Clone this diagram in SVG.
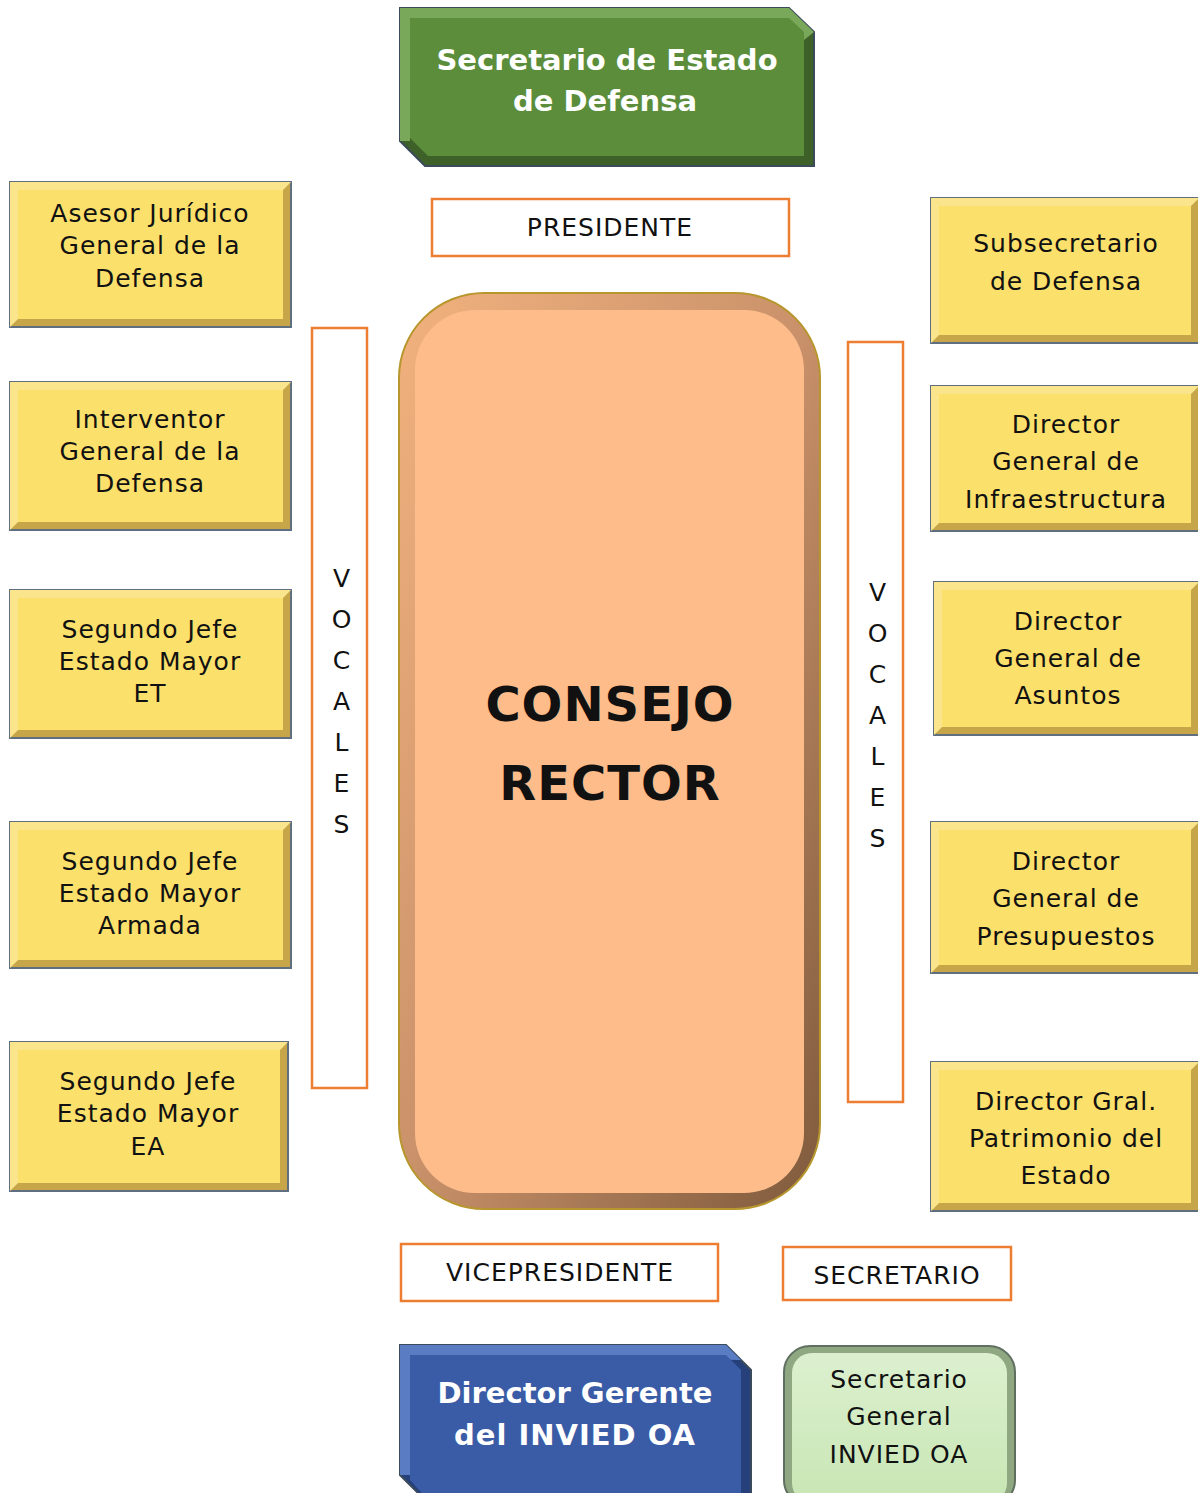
<svg xmlns="http://www.w3.org/2000/svg" width="1198" height="1493" viewBox="0 0 1198 1493">
<defs>
<style>
.t{font-family:"DejaVu Sans","Verdana",sans-serif;font-size:25px;letter-spacing:1px;fill:#111;text-anchor:middle}
.tw{font-family:"DejaVu Sans","Verdana",sans-serif;font-size:29px;font-weight:bold;fill:#fff;text-anchor:middle}
.big{font-family:"DejaVu Sans","Verdana",sans-serif;font-size:48px;letter-spacing:1px;font-weight:bold;fill:#111;text-anchor:middle}
.lbl{fill:#fff;stroke:#ed7d31;stroke-width:2.5}
.ybase{fill:#c6a648;stroke:#5f6f80;stroke-width:2}
.ylight{fill:#fbe58c}
.yface{fill:#fbe06c}
</style>
<linearGradient id="cbev" x1="0" y1="0" x2="1" y2="1">
<stop offset="0" stop-color="#f2b27e"/>
<stop offset="0.5" stop-color="#c9916a"/>
<stop offset="1" stop-color="#7e5a3c"/>
</linearGradient>
<linearGradient id="sgl" x1="0" y1="0" x2="0" y2="1">
<stop offset="0" stop-color="#dcf0cf"/>
<stop offset="1" stop-color="#c8e6b4"/>
</linearGradient>
</defs>

<g id="sec-estado">
<polygon points="400,8 789,8 814,32 814,166 425,166 400,141" fill="#3d6128" stroke="#3c4b5c" stroke-width="2"/>
<polygon points="400,8 789,8 814,32 804,40 410,18 410,141 400,141" fill="#7aa85a"/>
<polygon points="410,18 789,18 804,32 804,156 428,156 410,138" fill="#5b8d3b"/>
<text class="tw" x="607" y="70">Secretario de Estado</text>
<text class="tw" x="605" y="111">de Defensa</text>
</g>

<g id="presidente">
<rect class="lbl" x="432" y="199" width="357" height="57"/>
<text class="t" x="610" y="236">PRESIDENTE</text>
</g>

<g id="consejo">
<rect x="399" y="293" width="421" height="916" rx="85" fill="url(#cbev)" stroke="#b8962e" stroke-width="2"/>
<rect x="415" y="310" width="389" height="883" rx="60" fill="#fdbc8a"/>
<text class="big" x="610" y="721">CONSEJO</text>
<text class="big" x="610" y="800">RECTOR</text>
</g>

<g id="vocales-izq">
<rect class="lbl" x="312" y="328" width="55" height="760"/>
<text class="t" x="342" y="587">V</text>
<text class="t" x="342" y="628">O</text>
<text class="t" x="342" y="669">C</text>
<text class="t" x="342" y="710">A</text>
<text class="t" x="342" y="751">L</text>
<text class="t" x="342" y="792">E</text>
<text class="t" x="342" y="833">S</text>
</g>

<g id="vocales-der">
<rect class="lbl" x="848" y="342" width="55" height="760"/>
<text class="t" x="878" y="601">V</text>
<text class="t" x="878" y="642">O</text>
<text class="t" x="878" y="683">C</text>
<text class="t" x="878" y="724">A</text>
<text class="t" x="878" y="765">L</text>
<text class="t" x="878" y="806">E</text>
<text class="t" x="878" y="847">S</text>
</g>

<g id="asesor">
<rect class="ybase" x="10" y="182" width="281" height="145"/>
<polygon class="ylight" points="10,182 291,182 283,190 18,190 18,319 10,327"/>
<rect class="yface" x="18" y="190" width="265" height="129"/>
<text class="t" x="150" y="222">Asesor Jurídico</text>
<text class="t" x="150" y="254">General de la</text>
<text class="t" x="150" y="287">Defensa</text>
</g>

<g id="interventor">
<rect class="ybase" x="10" y="382" width="281" height="148"/>
<polygon class="ylight" points="10,382 291,382 283,390 18,390 18,522 10,530"/>
<rect class="yface" x="18" y="390" width="265" height="132"/>
<text class="t" x="150" y="428">Interventor</text>
<text class="t" x="150" y="460">General de la</text>
<text class="t" x="150" y="492">Defensa</text>
</g>

<g id="sje-et">
<rect class="ybase" x="10" y="590" width="281" height="148"/>
<polygon class="ylight" points="10,590 291,590 283,598 18,598 18,730 10,738"/>
<rect class="yface" x="18" y="598" width="265" height="132"/>
<text class="t" x="150" y="638">Segundo Jefe</text>
<text class="t" x="150" y="670">Estado Mayor</text>
<text class="t" x="150" y="702">ET</text>
</g>

<g id="sje-armada">
<rect class="ybase" x="10" y="822" width="281" height="146"/>
<polygon class="ylight" points="10,822 291,822 283,830 18,830 18,960 10,968"/>
<rect class="yface" x="18" y="830" width="265" height="130"/>
<text class="t" x="150" y="870">Segundo Jefe</text>
<text class="t" x="150" y="902">Estado Mayor</text>
<text class="t" x="150" y="934">Armada</text>
</g>

<g id="sje-ea">
<rect class="ybase" x="10" y="1042" width="278" height="149"/>
<polygon class="ylight" points="10,1042 288,1042 280,1050 18,1050 18,1183 10,1191"/>
<rect class="yface" x="18" y="1050" width="262" height="133"/>
<text class="t" x="148" y="1090">Segundo Jefe</text>
<text class="t" x="148" y="1122">Estado Mayor</text>
<text class="t" x="148" y="1155">EA</text>
</g>

<g id="subsecretario">
<rect class="ybase" x="931" y="198" width="268" height="145"/>
<polygon class="ylight" points="931,198 1199,198 1191,206 939,206 939,335 931,343"/>
<rect class="yface" x="939" y="206" width="252" height="129"/>
<text class="t" x="1066" y="252">Subsecretario</text>
<text class="t" x="1066" y="290">de Defensa</text>
</g>

<g id="dg-infra">
<rect class="ybase" x="931" y="386" width="268" height="145"/>
<polygon class="ylight" points="931,386 1199,386 1191,394 939,394 939,523 931,531"/>
<rect class="yface" x="939" y="394" width="252" height="129"/>
<text class="t" x="1066" y="433">Director</text>
<text class="t" x="1066" y="470">General de</text>
<text class="t" x="1066" y="508">Infraestructura</text>
</g>

<g id="dg-asuntos">
<rect class="ybase" x="934" y="582" width="265" height="153"/>
<polygon class="ylight" points="934,582 1199,582 1191,590 942,590 942,727 934,735"/>
<rect class="yface" x="942" y="590" width="249" height="137"/>
<text class="t" x="1068" y="630">Director</text>
<text class="t" x="1068" y="667">General de</text>
<text class="t" x="1068" y="704">Asuntos</text>
</g>

<g id="dg-presupuestos">
<rect class="ybase" x="931" y="822" width="268" height="151"/>
<polygon class="ylight" points="931,822 1199,822 1191,830 939,830 939,965 931,973"/>
<rect class="yface" x="939" y="830" width="252" height="135"/>
<text class="t" x="1066" y="870">Director</text>
<text class="t" x="1066" y="907">General de</text>
<text class="t" x="1066" y="945">Presupuestos</text>
</g>

<g id="dg-patrimonio">
<rect class="ybase" x="931" y="1062" width="268" height="149"/>
<polygon class="ylight" points="931,1062 1199,1062 1191,1070 939,1070 939,1203 931,1211"/>
<rect class="yface" x="939" y="1070" width="252" height="133"/>
<text class="t" x="1066" y="1110">Director Gral.</text>
<text class="t" x="1066" y="1147">Patrimonio del</text>
<text class="t" x="1066" y="1184">Estado</text>
</g>

<g id="vicepresidente">
<rect class="lbl" x="401" y="1244" width="317" height="57"/>
<text class="t" x="560" y="1281">VICEPRESIDENTE</text>
</g>

<g id="secretario">
<rect class="lbl" x="783" y="1247" width="228" height="53"/>
<text class="t" x="897" y="1284">SECRETARIO</text>
</g>

<g id="director-gerente">
<polygon points="400,1345 726,1345 751,1370 751,1500 425,1500 400,1475" fill="#25407a" stroke="#3c4b5c" stroke-width="2"/>
<polygon points="400,1345 726,1345 741,1360 410,1355 410,1475 400,1475" fill="#5a7cc2"/>
<polygon points="410,1355 726,1355 741,1370 741,1500 428,1500 410,1480" fill="#3a5ca6"/>
<text class="tw" x="575" y="1403">Director Gerente</text>
<text class="tw" x="575" y="1445" letter-spacing="1">del INVIED OA</text>
</g>

<g id="secretario-general">
<rect x="784" y="1346" width="231" height="160" rx="26" fill="#8fa882" stroke="#5f7060" stroke-width="2"/>
<rect x="792" y="1353" width="215" height="150" rx="20" fill="url(#sgl)"/>
<text class="t" x="899" y="1388">Secretario</text>
<text class="t" x="899" y="1425">General</text>
<text class="t" x="899" y="1463">INVIED OA</text>
</g>
</svg>
